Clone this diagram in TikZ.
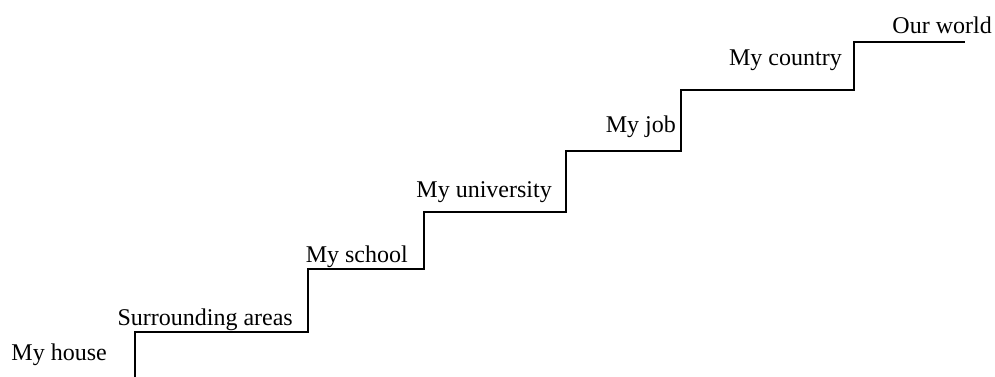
\documentclass[tikz,border=0pt]{standalone}
\usepackage{fontspec}
\setmainfont{Liberation Serif}
\begin{document}
\begin{tikzpicture}[x=1pt,y=-1pt,
  lbl/.style={anchor=base east,inner sep=0pt,font=\fontsize{24}{28}\selectfont},
  stair/.style={line width=2.8pt,line join=miter}]
\useasboundingbox (0,0) rectangle (995,376);
\coordinate (s0) at (135,377);
\coordinate (s1) at (135,332);
\coordinate (s2) at (308,332);
\coordinate (s3) at (308,269);
\coordinate (s4) at (424,269);
\coordinate (s5) at (424,212);
\coordinate (s6) at (566,212);
\coordinate (s7) at (566,151);
\coordinate (s8) at (681,151);
\coordinate (s9) at (681,90);
\coordinate (s10) at (854,90);
\coordinate (s11) at (854,42);
\coordinate (s12) at (965,42);
\draw[stair] (s0) -- (s1) -- (s2) -- (s3) -- (s4) -- (s5) -- (s6) -- (s7) -- (s8) -- (s9) -- (s10) -- (s11) -- (s12);
\node[lbl] (house) at (107,360) {My house};
\node[lbl] (surr) at (293,325) {Surrounding areas};
\node[lbl] (school) at (408,262) {My school};
\node[lbl] (univ) at (552,197) {My university};
\node[lbl] (job) at (676,132) {My job};
\node[lbl] (country) at (842,65) {My country};
\node[lbl] (world) at (992,33) {Our world};
\end{tikzpicture}
\end{document}
